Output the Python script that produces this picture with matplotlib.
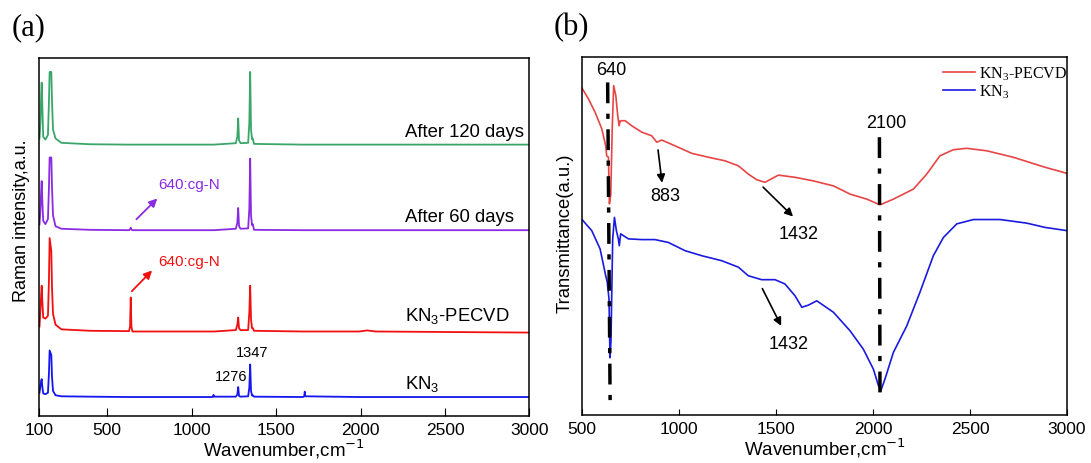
import matplotlib
matplotlib.use("Agg")
import matplotlib.pyplot as plt

plt.rcParams['font.family'] = ['Liberation Sans', 'DejaVu Sans']

# ---- (a) Raman spectra (curves offset vertically) ----
raman_x = [100, 106, 110, 113, 116, 122, 135, 150, 156, 160, 170, 174, 180, 195, 230, 400,
           630, 636, 640, 644, 650, 1120, 1127, 1130, 1133, 1262, 1271, 1276, 1281, 1290,
           1335, 1342, 1347, 1352, 1358, 1362, 1370, 1660, 1667, 1670, 1673,
           1990, 2040, 2090, 3000]

green_y = [77.5, 82, 90, 93.1, 88, 78, 77.2, 78.5, 88, 96.1, 96.1, 88, 80, 77.5, 76.3, 75.9,
           75.8, 75.8, 75.8, 75.8, 75.8, 75.8, 75.8, 75.8, 75.8, 76.2, 78, 83.1, 77, 76.2,
           76.3, 82, 96.1, 80, 77.3, 77.5, 76, 75.8, 75.8, 75.8, 75.8,
           75.8, 75.8, 75.8, 75.8]

purple_y = [53.5, 58, 63, 65.6, 61, 54.5, 53.6, 55, 64, 72.2, 72.2, 64, 56, 53, 52.3, 52,
            51.9, 52.1, 52.6, 52.1, 51.9, 51.9, 51.9, 51.9, 51.9, 52.3, 54, 58.1, 53, 52.3,
            52.4, 58, 71.9, 56, 53.3, 53.6, 52, 51.9, 51.9, 51.9, 51.9,
            51.9, 51.9, 51.9, 51.9]

red_y = [25, 30, 34, 36.4, 33, 27.5, 27.2, 28, 38, 49.7, 46, 36, 28.5, 25.5, 24.2, 23.8,
         23.7, 25, 33.1, 25, 23.6, 23.6, 23.6, 23.6, 23.6, 24, 25.5, 27.5, 24.5, 24,
         24, 29, 36.4, 27, 24.5, 24.6, 23.8, 23.6, 23.6, 23.6, 23.6,
         23.6, 23.9, 23.6, 23.3]

blue_y = [6.5, 8.5, 9.8, 10.3, 8.5, 6.3, 6.1, 6.5, 12, 18.3, 17, 11, 7, 5.8, 5.5, 5.4,
          5.3, 5.3, 5.3, 5.3, 5.3, 5.3, 5.4, 5.9, 5.4, 5.4, 6, 8.1, 5.6, 5.4,
          5.5, 8, 14.4, 7, 5.7, 5.8, 5.4, 5.3, 5.5, 6.8, 5.5,
          5.3, 5.3, 5.3, 5.3]

raman_names = ["After 120 days", "After 60 days", "KN$\\mathregular{_3}$-PECVD", "KN$\\mathregular{_3}$"]
raman_colors = ["#3aa66a", "#8a2be2", "#f01010", "#1515f0"]
raman_label_y = [79.5, 55.8, 28.1, 9.2]

# ---- (b) FTIR transmittance ----
pecvd_x = [500, 533, 567, 602, 622, 627, 636, 641, 648, 656, 663, 674, 684, 691, 697, 722, 756,
           808, 859, 885, 911, 979, 1065, 1151, 1237, 1306, 1357, 1401, 1443, 1512, 1598,
           1692, 1796, 1882, 1968, 2036, 2105, 2208, 2277, 2345, 2414, 2483, 2586, 2723,
           2887, 3000]
pecvd_y = [91.3, 88.3, 84.6, 79.9, 75.2, 72.4, 72, 59.0, 61.5, 80.8, 92, 89.2, 83.6, 80.8,
           82.2, 82.2, 80.8, 79, 78, 76.2, 76.8, 75.2, 73.1, 72, 71, 69.6, 67.3, 65.7, 65,
           67, 66.4, 65.4, 64, 61.7, 60.3, 58.7, 60.3, 63.1, 67.3, 72.4, 74.1, 74.5, 73.8,
           72, 69.2, 67.5]

kn3_x = [500, 550, 593, 622, 630, 639, 644, 649, 658, 667, 677, 687, 692, 699, 739, 808, 876,
         945, 1031, 1117, 1220, 1306, 1357, 1426, 1495, 1546, 1598, 1633, 1667, 1710, 1796,
         1882, 1950, 2002, 2028, 2040, 2062, 2105, 2174, 2242, 2311, 2363, 2432, 2518, 2655,
         2792, 2887, 3000]
kn3_y = [54.6, 51.5, 46.4, 38.9, 37.1, 32.4, 16.0, 20.5, 49.2, 55.2, 51.5, 49.2, 47.3, 50.6,
         49.2, 49, 49, 48.2, 45.9, 44.5, 43.1, 41.3, 38.9, 37.8, 37.8, 36.6, 33.3, 30.1,
         30.7, 31.9, 28.7, 23.5, 18.4, 12.8, 8.2, 6.8, 10.1, 17.5, 24.9, 34.3, 44.5, 49.6,
         53.4, 54.6, 54.6, 53.6, 52.4, 51.5]

mark_640_x = [632, 645]
mark_640_y = [92.9, 1.9]
mark_2100_x = [2033, 2036]
mark_2100_y = [77.6, 3.6]

fig = plt.figure(figsize=(10.91, 4.64), dpi=100)

# ---------------- (a) ----------------
ax1 = fig.add_axes([0.0362, 0.1013, 0.4491, 0.7716])
for y, c, name, ly in zip([green_y, purple_y, red_y, blue_y], raman_colors, raman_names, raman_label_y):
    ax1.plot(raman_x, y, color=c, lw=1.3)
    ax1.text(2265, ly, name, fontsize=13.3, va='center', ha='left')

ax1.text(1356, 18, "1347", fontsize=10.5, ha='center', va='center')
ax1.text(1237, 11.1, "1276", fontsize=10.5, ha='center', va='center')

ax1.annotate('', xy=(809, 61.3), xytext=(662, 54.4),
             arrowprops=dict(arrowstyle='-|>', color=raman_colors[1], lw=1.3, mutation_scale=12))
ax1.text(805, 64.7, "640:cg-N", color=raman_colors[1], fontsize=11, va='center')
ax1.annotate('', xy=(778, 41.2), xytext=(635, 34.3),
             arrowprops=dict(arrowstyle='-|>', color=raman_colors[2], lw=1.3, mutation_scale=12))
ax1.text(805, 43.3, "640:cg-N", color=raman_colors[2], fontsize=11, va='center')

ax1.set_xlim(100, 3000)
ax1.set_ylim(0, 100)
ax1.set_xticks([100, 500, 1000, 1500, 2000, 2500, 3000])
ax1.set_yticks([])
ax1.tick_params(axis='x', direction='in', length=6, labelsize=12.5, pad=4)
ax1.set_xlabel("Wavenumber,cm$^{-1}$", fontsize=13.5, labelpad=0)
ax1.set_ylabel("Raman intensity,a.u.", fontsize=13)
ax1.yaxis.set_label_coords(-0.02, 0.547)
for s in ax1.spines.values():
    s.set_linewidth(1.1)

# ---------------- (b) ----------------
ax2 = fig.add_axes([0.5335, 0.1034, 0.4445, 0.7716])
ax2.plot(pecvd_x, pecvd_y, color="#e84545", lw=1.2, label="KN$\\mathregular{_3}$-PECVD")
ax2.plot(kn3_x, kn3_y, color="#1a1ae0", lw=1.2, label="KN$\\mathregular{_3}$")
ax2.plot(mark_640_x, mark_640_y, color='black', lw=2.5, ls=(0, (6, 3, 1.5, 3)))
ax2.plot(mark_2100_x, mark_2100_y, color='black', lw=2.5, ls=(0, (6, 3, 1.5, 3)))

ax2.text(653, 96.5, "640", fontsize=13, ha='center', va='center')
ax2.text(2067, 81.6, "2100", fontsize=13, ha='center', va='center')
ax2.text(928, 61.3, "883", fontsize=13, ha='center', va='center')
ax2.text(1615, 50.6, "1432", fontsize=13, ha='center', va='center')
ax2.text(1563, 20.1, "1432", fontsize=13, ha='center', va='center')
arrow = dict(arrowstyle='-|>', color='black', lw=1.2, mutation_scale=12)
ax2.annotate('', xy=(914, 64.1), xytext=(890, 74.8), arrowprops=arrow)
ax2.annotate('', xy=(1598, 54.9), xytext=(1423, 64.2), arrowprops=arrow)
ax2.annotate('', xy=(1533, 24.2), xytext=(1423, 36), arrowprops=arrow)

leg = ax2.legend(loc='upper right', bbox_to_anchor=(1.0, 0.978), frameon=False,
                 prop={'family': 'Liberation Serif', 'size': 11.5},
                 borderpad=0, borderaxespad=0,
                 handlelength=2.0, labelspacing=0.02, handletextpad=0.25)

ax2.set_xlim(500, 3000)
ax2.set_ylim(0, 100)
ax2.set_xticks([500, 1000, 1500, 2000, 2500, 3000])
ax2.set_yticks([])
ax2.tick_params(axis='x', direction='in', length=4, labelsize=12.5, pad=4)
ax2.set_xlabel("Wavenumber,cm$^{-1}$", fontsize=13.5, labelpad=0)
ax2.set_ylabel("Transmittance(a.u.)", fontsize=13.3)
ax2.yaxis.set_label_coords(-0.018, 0.51)
for s in ax2.spines.values():
    s.set_linewidth(1.1)

fig.text(0.011, 0.94, "(a)", fontsize=22, family='Liberation Serif', va='center')
fig.text(0.507, 0.94, "(b)", fontsize=22, family='Liberation Serif', va='center')

fig.savefig("out.png", dpi=100)
